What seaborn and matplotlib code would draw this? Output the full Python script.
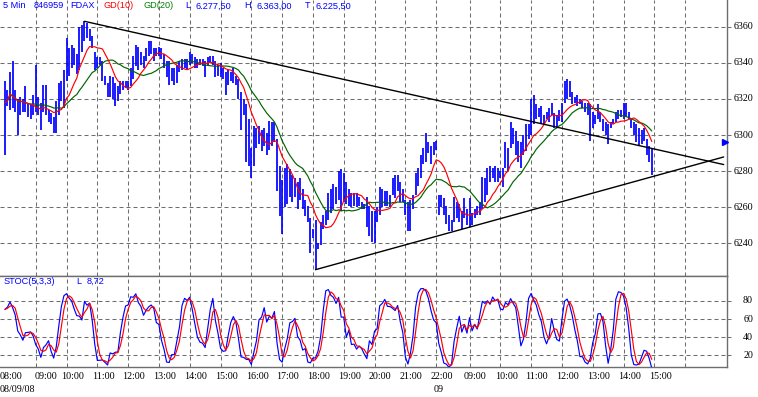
import numpy as np
import pandas as pd
import matplotlib
matplotlib.use("Agg")
import matplotlib.pyplot as plt
from matplotlib.transforms import blended_transform_factory, ScaledTranslation
import seaborn as sns

# ---------------- data (5-minute FDAX bars) ----------------
high = [
    6330, 6325, 6335, 6341, 6325, 6320, 6321, 6320, 6327, 6318,
    6317, 6322, 6339, 6321, 6318, 6328, 6328, 6314, 6312, 6310,
    6319, 6329, 6330, 6336, 6354, 6348, 6350, 6348, 6345, 6360,
    6361, 6363, 6362, 6359, 6355, 6346, 6343, 6343, 6341, 6333,
    6329, 6333, 6332, 6329, 6327, 6330, 6330, 6330, 6330, 6337,
    6344, 6350, 6349, 6346, 6344, 6348, 6352, 6352, 6348, 6348,
    6349, 6348, 6345, 6341, 6341, 6337, 6337, 6339, 6341, 6342,
    6342, 6342, 6346, 6345, 6343, 6342, 6342, 6342, 6341, 6343,
    6344, 6344, 6341, 6339, 6340, 6337, 6335, 6336, 6335, 6337,
    6333, 6331, 6324, 6320, 6317, 6309, 6293, 6305, 6304, 6305,
    6303, 6304, 6301, 6308, 6307, 6307, 6298, 6283, 6275, 6282,
    6284, 6281, 6278, 6276, 6274, 6276, 6270, 6264, 6261, 6254,
    6248, 6253, 6240, 6252, 6256, 6258, 6268, 6270, 6273, 6271,
    6280, 6281, 6279, 6274, 6270, 6268, 6268, 6268, 6266, 6263,
    6262, 6266, 6261, 6258, 6258, 6260, 6271, 6270, 6269, 6269,
    6267, 6276, 6278, 6278, 6274, 6270, 6264, 6263, 6264, 6267,
    6279, 6282, 6289, 6293, 6301, 6296, 6294, 6296, 6297, 6267,
    6267, 6265, 6261, 6256, 6253, 6266, 6263, 6262, 6258, 6265,
    6259, 6265, 6257, 6259, 6261, 6263, 6277, 6276, 6282, 6283,
    6282, 6283, 6282, 6280, 6282, 6296, 6293, 6307, 6304, 6302,
    6297, 6296, 6300, 6306, 6306, 6320, 6322, 6317, 6315, 6316,
    6311, 6313, 6315, 6318, 6312, 6311, 6314, 6318, 6330, 6331,
    6330, 6324, 6321, 6322, 6320, 6319, 6318, 6318, 6317, 6313,
    6311, 6317, 6313, 6309, 6307, 6306, 6307, 6309, 6313, 6314,
    6314, 6318, 6318, 6313, 6309, 6307, 6306, 6304, 6303, 6304,
    6298, 6294, 6293,
]
low = [
    6289, 6316, 6314, 6315, 6313, 6300, 6311, 6313, 6313, 6310,
    6309, 6311, 6313, 6311, 6303, 6313, 6311, 6307, 6306, 6301,
    6301, 6311, 6319, 6315, 6330, 6333, 6337, 6339, 6334, 6336,
    6346, 6352, 6354, 6352, 6348, 6336, 6337, 6339, 6330, 6328,
    6321, 6321, 6320, 6316, 6319, 6323, 6325, 6326, 6325, 6327,
    6331, 6338, 6336, 6339, 6337, 6341, 6344, 6345, 6341, 6344,
    6344, 6342, 6337, 6332, 6328, 6330, 6328, 6329, 6335, 6336,
    6337, 6336, 6339, 6340, 6337, 6337, 6339, 6338, 6332, 6339,
    6340, 6339, 6332, 6333, 6332, 6331, 6322, 6328, 6330, 6329,
    6328, 6320, 6303, 6311, 6285, 6283, 6276, 6283, 6293, 6295,
    6291, 6294, 6289, 6292, 6294, 6296, 6269, 6255, 6245, 6260,
    6262, 6266, 6263, 6266, 6259, 6264, 6259, 6255, 6252, 6235,
    6243, 6225.5, 6237, 6239, 6248, 6250, 6253, 6257, 6259, 6262,
    6264, 6258, 6263, 6262, 6261, 6260, 6261, 6260, 6261, 6259,
    6259, 6249, 6244, 6241, 6240, 6252, 6256, 6260, 6261, 6261,
    6260, 6267, 6265, 6269, 6263, 6263, 6256, 6247, 6247, 6259,
    6267, 6272, 6276, 6284, 6285, 6290, 6284, 6289, 6292, 6256,
    6260, 6256, 6251, 6247, 6247, 6252, 6254, 6252, 6248, 6254,
    6250, 6249, 6250, 6254, 6256, 6256, 6259, 6263, 6267, 6274,
    6276, 6274, 6274, 6276, 6271, 6282, 6280, 6293, 6295, 6289,
    6285, 6282, 6289, 6291, 6298, 6300, 6306, 6309, 6310, 6306,
    6306, 6309, 6307, 6311, 6304, 6304, 6308, 6307, 6318, 6320,
    6321, 6317, 6318, 6316, 6317, 6315, 6313, 6311, 6297, 6304,
    6306, 6309, 6307, 6302, 6300, 6295, 6304, 6306, 6307, 6309,
    6310, 6309, 6310, 6309, 6304, 6300, 6296, 6294, 6295, 6297,
    6289, 6285, 6278,
]
close = [
    6318, 6320, 6330, 6318, 6316, 6312, 6318, 6315, 6316, 6312,
    6314, 6318, 6316, 6314, 6308, 6322, 6313, 6309, 6308, 6303,
    6317, 6326, 6322, 6334, 6350, 6338, 6347, 6342, 6336, 6357,
    6350, 6360, 6356, 6354, 6349, 6338, 6341, 6340, 6332, 6330,
    6323, 6331, 6322, 6318, 6325, 6328, 6326, 6329, 6327, 6335,
    6342, 6347, 6340, 6344, 6342, 6347, 6350, 6346, 6347, 6345,
    6347, 6343, 6338, 6334, 6331, 6335, 6330, 6337, 6339, 6338,
    6341, 6339, 6344, 6341, 6339, 6340, 6340, 6339, 6335, 6342,
    6343, 6340, 6334, 6338, 6334, 6332, 6330, 6334, 6333, 6331,
    6329, 6322, 6306, 6313, 6290, 6288, 6280, 6300, 6296, 6302,
    6294, 6300, 6292, 6305, 6303, 6298, 6272, 6260, 6256, 6277,
    6270, 6274, 6266, 6272, 6262, 6270, 6262, 6258, 6254, 6240,
    6245, 6230, 6238, 6250, 6254, 6256, 6265, 6262, 6270, 6266,
    6278, 6262, 6274, 6265, 6268, 6263, 6266, 6264, 6263, 6261,
    6260, 6252, 6258, 6245, 6256, 6258, 6268, 6262, 6266, 6264,
    6266, 6274, 6270, 6275, 6266, 6265, 6258, 6250, 6260, 6265,
    6276, 6280, 6287, 6290, 6296, 6292, 6288, 6294, 6295, 6260,
    6264, 6258, 6254, 6249, 6251, 6262, 6257, 6258, 6252, 6262,
    6253, 6261, 6254, 6257, 6259, 6262, 6274, 6268, 6279, 6277,
    6280, 6278, 6280, 6278, 6280, 6294, 6286, 6304, 6298, 6292,
    6288, 6286, 6298, 6302, 6304, 6316, 6310, 6313, 6312, 6308,
    6309, 6311, 6313, 6314, 6306, 6309, 6312, 6316, 6327, 6324,
    6322, 6320, 6319, 6320, 6318, 6316, 6314, 6312, 6302, 6310,
    6308, 6315, 6309, 6304, 6302, 6297, 6306, 6308, 6312, 6311,
    6313, 6316, 6312, 6310, 6305, 6302, 6298, 6296, 6300, 6298,
    6290, 6288, 6277.5,
]

# bar index of each labelled hour (day 1 starts 08:00 at index 0, day 2 08:00 at 169)
hour_tick_idx = [0, 12, 24, 36, 48, 60, 72, 84, 96, 108, 120, 132, 144, 156, 168,
                 181, 193, 205, 217, 229, 241, 253]
hour_tick_lab = ['08:00', '09:00', '10:00', '11:00', '12:00', '13:00', '14:00', '15:00',
                 '16:00', '17:00', '18:00', '19:00', '20:00', '21:00', '22:00',
                 '09:00', '10:00', '11:00', '12:00', '13:00', '14:00', '15:00']
grid_idx = hour_tick_idx[1:] + [265]
date_idx = [0, 169]
date_lab = ['08/09/08', '09']
price_ticks = [6240, 6260, 6280, 6300, 6320, 6340, 6360]
stoch_ticks = [20, 40, 60, 80]
upper_trend_x = [31, 280]
upper_trend_y = [6363.0, 6283.7]
lower_trend_x = [121, 280]
lower_trend_y = [6225.5, 6287.9]
marker_x, marker_y = 280.6, 6296

# ---------------- indicators ----------------
df = pd.DataFrame({'i': np.arange(len(close)), 'high': high, 'low': low, 'close': close})
df['gd10'] = df['close'].rolling(10, min_periods=1).mean()
df['gd20'] = df['close'].rolling(20, min_periods=1).mean()
hh = df['high'].rolling(5, min_periods=1).max()
ll = df['low'].rolling(5, min_periods=1).min()
num = (df['close'] - ll).rolling(3, min_periods=1).sum()
den = (hh - ll).rolling(3, min_periods=1).sum()
df['k'] = 100 * num / den
df['d'] = df['k'].rolling(3, min_periods=1).mean()

# ---------------- figure ----------------
sns.set_style("white")
plt.rcParams['font.family'] = ['Liberation Serif', 'DejaVu Serif']

W, H = 758, 397
fig = plt.figure(figsize=(W / 100, H / 100), dpi=100)
fig.patch.set_facecolor('white')


def rect(x0, y0, x1, y1):
    return [x0 / W, 1 - y1 / H, (x1 - x0) / W, (y1 - y0) / H]


ax = fig.add_axes(rect(0, 0, 727, 276))
ax2 = fig.add_axes(rect(0, 276, 727, 367.3))

GRID = '#6e6e6e'
dash = (0, (3.84, 2.88))
BLUE = '#0000ff'
RED = '#ff0000'
GREEN = '#006400'

XL = (-1.91, 281.3)

for a in (ax, ax2):
    a.set_facecolor('white')
    for gx in grid_idx:
        a.axvline(gx, color=GRID, lw=0.75, linestyle=dash, zorder=0)
for p in price_ticks:
    ax.axhline(p, color=GRID, lw=0.75, linestyle=dash, zorder=0)
for s in stoch_ticks:
    ax2.axhline(s, color=GRID, lw=0.75, linestyle=dash, zorder=0)

# price bars
ax.vlines(df['i'], df['low'], df['high'], color=BLUE, lw=1.25, zorder=2)
# moving averages
sns.lineplot(data=df, x='i', y='gd20', ax=ax, color=GREEN, lw=0.85, zorder=3, legend=False)
sns.lineplot(data=df, x='i', y='gd10', ax=ax, color=RED, lw=0.85, zorder=4, legend=False)
# trend lines
sns.lineplot(x=upper_trend_x, y=upper_trend_y, ax=ax, color='black', lw=1.0, zorder=5, legend=False)
sns.lineplot(x=lower_trend_x, y=lower_trend_y, ax=ax, color='black', lw=1.0, zorder=5, legend=False)
ax.plot([marker_x], [marker_y], marker='>', color=BLUE, markersize=4.5, clip_on=False, zorder=6)

# stochastic
sns.lineplot(data=df, x='i', y='k', ax=ax2, color=BLUE, lw=0.85, zorder=3, legend=False)
sns.lineplot(data=df, x='i', y='d', ax=ax2, color=RED, lw=0.85, zorder=4, legend=False)

ax.set_xlim(*XL)
ax2.set_xlim(*XL)
ax.set_ylim(6222.0, 6374.8)
ax2.set_ylim(6.7, 107.6)

for a, ticks in ((ax, price_ticks), (ax2, stoch_ticks)):
    a.set_xlabel('')
    a.set_ylabel('')
    a.set_xticks([])
    a.yaxis.set_ticks_position('right')
    a.set_yticks(ticks)
    a.tick_params(axis='y', length=3, width=0.75, color=GRID, direction='out',
                  labelright=False, labelleft=False)
    for side in ('top', 'bottom', 'left', 'right'):
        a.spines[side].set_color(GRID)
        a.spines[side].set_linewidth(1.0)
    a.spines['left'].set_visible(False)
ax.spines['top'].set_visible(False)

# right-hand value labels
tr_main = blended_transform_factory(fig.transFigure, ax.transData)
for p in price_ticks:
    ax.text(753 / W, p, str(p), transform=tr_main, ha='right', va='center',
            fontsize=7.2, color='black', clip_on=False)
tr_st = blended_transform_factory(fig.transFigure, ax2.transData)
for s in stoch_ticks:
    ax2.text(753 / W, s, str(s), transform=tr_st, ha='right', va='center',
             fontsize=7.2, color='black', clip_on=False)

# time labels
tr_x = blended_transform_factory(ax2.transData, fig.transFigure)
for k, (ti, lab) in enumerate(zip(hour_tick_idx, hour_tick_lab)):
    if k == 0:
        off = 6.0
    elif k == 1:
        off = 10.3
    else:
        off = 5.7
    t = tr_x + ScaledTranslation(off / 100, 0, fig.dpi_scale_trans)
    ax2.text(ti, 1 - 376.5 / H, lab, transform=t, ha='center', va='center',
             fontsize=7.2, color='black', clip_on=False)
for di, lab in zip(date_idx, date_lab):
    t = tr_x + ScaledTranslation(-4.9 / 100, 0, fig.dpi_scale_trans)
    ax2.text(di, 1 - 390 / H, lab, transform=t, ha='left', va='center',
             fontsize=7.2, color='black', clip_on=False)

# header texts
hdr = dict(family=['Liberation Sans', 'DejaVu Sans'], fontsize=6.6, va='center', ha='left')
for s, x, c in [('5 Min', 2.7, BLUE), ('846959', 33.3, BLUE), ('FDAX', 70.7, BLUE),
                ('GD(10)', 103.3, RED), ('GD(20)', 143.3, '#008000'),
                ('L', 185, BLUE), ('6.277,50', 196, BLUE),
                ('H', 244.3, BLUE), ('6.363,00', 256.7, BLUE),
                ('T', 305, BLUE), ('6.225,50', 315, BLUE)]:
    fig.text(x / W, 1 - 6 / H, s, color=c, **hdr)
for s, x in [('STOC(5,3,3)', 3.3), ('L', 76), ('8,72', 86.7)]:
    fig.text(x / W, 1 - 281.7 / H, s, color=BLUE, **hdr)

fig.savefig('out.png', dpi=100)
